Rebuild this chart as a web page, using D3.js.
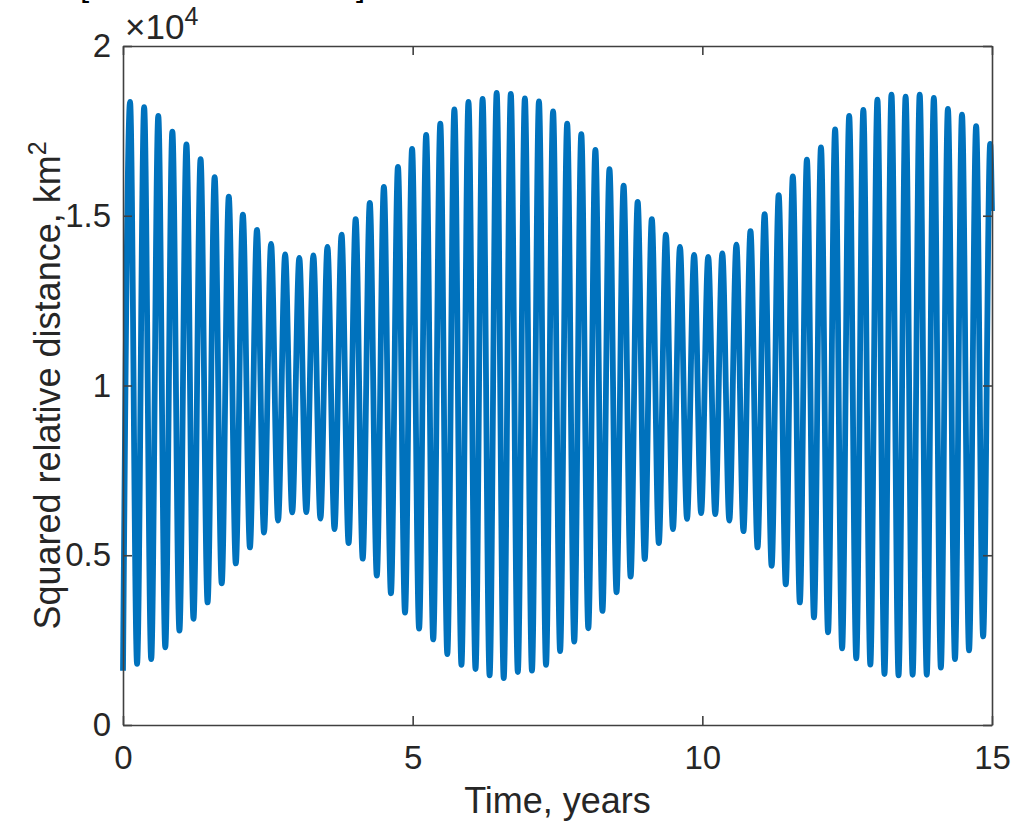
<!DOCTYPE html>
<html>
<head>
<meta charset="utf-8">
<script src="https://cdn.jsdelivr.net/npm/d3@7"></script>
<style>
  body { margin: 0; background: #fff; }
  svg { display: block; font-family: "Liberation Sans", Arial, sans-serif; }
</style>
</head>
<body>
<svg id="chart" width="1011" height="823"></svg>
<script>
(function () {
  // Minima of the squared distance (km^2), one per orbit.
  let troughTimes = [0, 0.243, 0.487, 0.730, 0.974, 1.217, 1.460, 1.704, 1.947, 2.191,
    2.434, 2.677, 2.921, 3.164, 3.408, 3.651, 3.894, 4.138, 4.381, 4.625,
    4.868, 5.111, 5.355, 5.598, 5.842, 6.085, 6.328, 6.572, 6.815, 7.059,
    7.302, 7.545, 7.789, 8.032, 8.276, 8.519, 8.762, 9.006, 9.249, 9.493,
    9.736, 9.979, 10.223, 10.466, 10.710, 10.953, 11.196, 11.440, 11.683, 11.927,
    12.170, 12.413, 12.657, 12.900, 13.144, 13.387, 13.630, 13.874, 14.117, 14.361,
    14.604, 14.847];
  let troughValues = [1600, 1800, 1940, 2290, 2780, 3130, 3610, 4170, 4760, 5230,
    5670, 6020, 6260, 6270, 6080, 5770, 5360, 4900, 4400, 3880,
    3310, 2840, 2520, 2090, 1770, 1650, 1460, 1380, 1560, 1600,
    1770, 2180, 2460, 2850, 3360, 3910, 4370, 4890, 5360, 5770,
    6070, 6240, 6210, 6020, 5710, 5230, 4690, 4140, 3610, 3170,
    2730, 2260, 1960, 1780, 1500, 1460, 1480, 1480, 1690, 1940,
    2200, 2610];

  // Maxima of the squared distance (km^2).
  let peakTimes = [0.122, 0.365, 0.609, 0.852, 1.095, 1.339, 1.582, 1.826, 2.069, 2.312,
    2.556, 2.799, 3.043, 3.286, 3.529, 3.773, 4.016, 4.260, 4.503, 4.746,
    4.990, 5.233, 5.477, 5.720, 5.963, 6.207, 6.450, 6.694, 6.937, 7.180,
    7.424, 7.667, 7.911, 8.154, 8.397, 8.641, 8.884, 9.128, 9.371, 9.614,
    9.858, 10.101, 10.345, 10.588, 10.831, 11.075, 11.318, 11.562, 11.805, 12.048,
    12.292, 12.535, 12.779, 13.022, 13.265, 13.509, 13.752, 13.996, 14.239, 14.482,
    14.726, 14.969];
  let peakValues = [18350, 18200, 17940, 17480, 17100, 16670, 16140, 15560, 15030, 14580,
    14170, 13860, 13760, 13830, 14080, 14440, 14900, 15380, 15850, 16440,
    16970, 17380, 17710, 18130, 18350, 18440, 18620, 18590, 18460, 18370,
    18070, 17710, 17400, 16940, 16370, 15890, 15410, 14900, 14440, 14080,
    13850, 13790, 13890, 14150, 14550, 15050, 15610, 16160, 16650, 17010,
    17540, 17940, 18120, 18420, 18570, 18510, 18570, 18470, 18150, 17980,
    17640, 17120];

  // Last sample at the end of the run.
  let endTimes = [15];
  let endValues = [15140];

  let xTicks = [0, 5, 10, 15];
  let yTicks = [0, 5000, 10000, 15000, 20000];

  let width = 1011, height = 823;
  let margin = { top: 46, right: 19, bottom: 98, left: 123 };
  let textColor = "#262626";

  let svg = d3.select("#chart");

  let x = d3.scaleLinear().domain([0, 15]).range([margin.left, width - margin.right]);
  let y = d3.scaleLinear().domain([0, 20000]).range([height - margin.bottom, margin.top]);

  // Merge maxima and minima into one time-ordered series.
  let points = [];
  troughTimes.forEach((t, i) => points.push({ t: t, v: troughValues[i] }));
  peakTimes.forEach((t, i) => points.push({ t: t, v: peakValues[i] }));
  endTimes.forEach((t, i) => points.push({ t: t, v: endValues[i] }));
  points.sort((a, b) => a.t - b.t);

  let line = d3
    .line()
    .x((d) => x(d.t))
    .y((d) => y(d.v))
    .curve(d3.curveMonotoneX);

  svg.append("path")
    .datum(points)
    .attr("fill", "none")
    .attr("stroke", "#0072BD")
    .attr("stroke-width", 5.8)
    .attr("stroke-linejoin", "round")
    .attr("d", line);

  // Axes: ticks point inward on all four sides, labels only bottom and left.
  function styleAxis(g) {
    g.selectAll("path, line").attr("stroke", "#404040").attr("stroke-width", 1.6);
    g.selectAll("text").attr("fill", textColor).attr("font-size", 33)
      .attr("font-family", "Liberation Sans, Arial, sans-serif");
  }

  svg.append("g")
    .attr("transform", `translate(0,${height - margin.bottom})`)
    .call(d3.axisBottom(x).tickValues(xTicks).tickSizeInner(-9).tickSizeOuter(0).tickPadding(21))
    .call(styleAxis);

  svg.append("g")
    .attr("transform", `translate(0,${margin.top})`)
    .call(d3.axisTop(x).tickValues(xTicks).tickSizeInner(-9).tickSizeOuter(0).tickFormat(""))
    .call(styleAxis);

  svg.append("g")
    .attr("transform", `translate(${margin.left},0)`)
    .call(d3.axisLeft(y).tickValues(yTicks).tickSizeInner(-9).tickSizeOuter(0).tickPadding(12)
      .tickFormat((d) => d3.format("~g")(d / 10000)))
    .call(styleAxis);

  svg.append("g")
    .attr("transform", `translate(${width - margin.right},0)`)
    .call(d3.axisRight(y).tickValues(yTicks).tickSizeInner(-9).tickSizeOuter(0).tickFormat(""))
    .call(styleAxis);

  svg.selectAll(".domain").attr("fill", "none");

  // Exponent of the y axis.
  let expo = svg.append("text")
    .attr("x", margin.left + 2)
    .attr("y", 39)
    .attr("fill", textColor)
    .attr("font-size", 35);
  expo.append("tspan").text("\u00d710");
  expo.append("tspan").attr("font-size", 25).attr("dy", -14).text("4");

  // Axis titles.
  svg.append("text")
    .attr("x", (margin.left + width - margin.right) / 2)
    .attr("y", 813)
    .attr("text-anchor", "middle")
    .attr("fill", textColor)
    .attr("font-size", 36)
    .text("Time, years");

  let ylab = svg.append("text")
    .attr("transform", `translate(60,${(margin.top + height - margin.bottom) / 2}) rotate(-90)`)
    .attr("text-anchor", "middle")
    .attr("fill", textColor)
    .attr("font-size", 36);
  ylab.append("tspan").text("Squared relative distance, km");
  ylab.append("tspan").attr("font-size", 25).attr("dy", -14).text("2");

  // Cut-off remains of a title above the figure.
  svg.append("text").attr("x", 80).attr("y", -4).attr("fill", "#000").attr("font-size", 33).text("[");
  svg.append("text").attr("x", 356).attr("y", -4).attr("fill", "#000").attr("font-size", 33).text("]");
})();
</script>
</body>
</html>
